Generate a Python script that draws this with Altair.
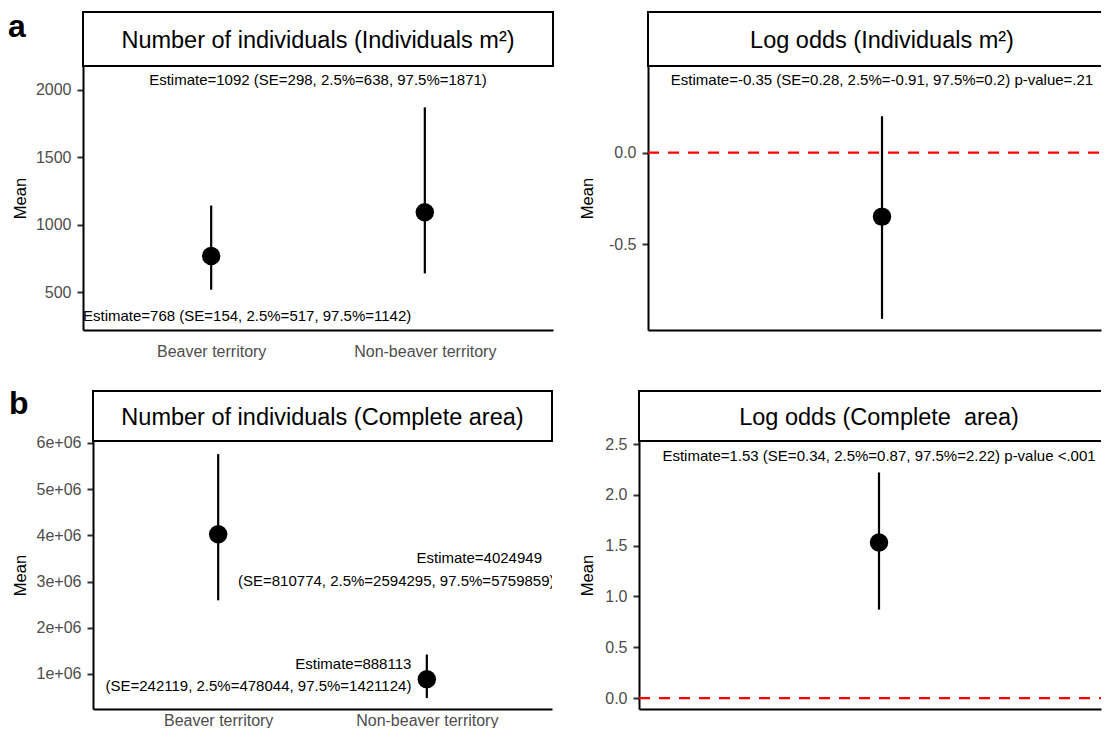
import altair as alt
import pandas as pd

FONT = "Liberation Sans"
GREY = "#4D4D4D"

# ---------------- data ----------------
categories = ["Beaver territory", "Non-beaver territory"]
cat_pos = [1, 2]

ind_mean = [768, 1092]
ind_low = [517, 638]
ind_high = [1142, 1871]

lo_ind_mean = [-0.35]
lo_ind_low = [-0.91]
lo_ind_high = [0.2]

tot_mean = [4024949, 888113]
tot_low = [2594295, 478044]
tot_high = [5759859, 1421124]

lo_tot_mean = [1.53]
lo_tot_low = [0.87]
lo_tot_high = [2.22]

strip_titles = [
    "Number of individuals (Individuals m²)",
    "Log odds (Individuals m²)",
    "Number of individuals (Complete area)",
    "Log odds (Complete\u00a0 area)",
]
panel_tags = ["a", "b"]
zero_line = [0]

ann_ind_top = ["Estimate=1092 (SE=298, 2.5%=638, 97.5%=1871)"]
ann_ind_top_x = [1.5]
ann_ind_top_y = [2074]
ann_ind_bot = ["Estimate=768 (SE=154, 2.5%=517, 97.5%=1142)"]
ann_ind_bot_x = [0.4]
ann_ind_bot_y = [322]
ann_lo_ind = ["Estimate=-0.35 (SE=0.28, 2.5%=-0.91, 97.5%=0.2) p-value=.21"]
ann_lo_ind_x = [1]
ann_lo_ind_y = [0.40]
ann_tot_b1 = ["Estimate=4024949"]
ann_tot_b1_x = [2.552]
ann_tot_b1_y = [3.50e6]
ann_tot_b2 = ["(SE=810774, 2.5%=2594295, 97.5%=5759859)"]
ann_tot_b2_x = [1.095]
ann_tot_b2_y = [3.02e6]
ann_tot_n = ["Estimate=888113", "(SE=242119, 2.5%=478044, 97.5%=1421124)"]
ann_tot_n_x = [1.926, 1.926]
ann_tot_n_y = [1.216e6, 0.740e6]
ann_lo_tot = ["Estimate=1.53 (SE=0.34, 2.5%=0.87, 97.5%=2.22) p-value <.001"]
ann_lo_tot_x = [1]
ann_lo_tot_y = [2.38]

# ---------------- helpers ----------------
label_expr = "'" + categories[-1] + "'"
for p, c in reversed(list(zip(cat_pos[:-1], categories[:-1]))):
    label_expr = f"datum.value == {p} ? '{c}' : " + label_expr

HYPHEN_1F = "datum.value < 0 ? '-' + format(-datum.value, '.1f') : format(datum.value, '.1f')"
SCI_EXPR = "replace(format(datum.value, '.0e'), 'e+', 'e+0')"


def panel(pos, mean, low, high, xdom, ydom, yvals, ypad, width, x0, height,
          strip_title, strip_center, strip_h, tag=None, tag_dx=0, tag_dy=0,
          xlabels=True, xlabel_pad=13, yfmt=None, yexpr=None, texts=(), zero=None,
          open_right=False):

    def X(field):
        if xlabels:
            axis = alt.Axis(values=cat_pos, labelExpr=label_expr, ticks=False, tickSize=0,
                            labelPadding=xlabel_pad, labelFontSize=16, labelColor=GREY,
                            labelFont=FONT, domainColor="black", domainWidth=2,
                            grid=False, title=None)
        else:
            axis = alt.Axis(labels=False, ticks=False, tickSize=0, domainColor="black",
                            domainWidth=2, grid=False, title=None)
        return alt.X(f"{field}:Q",
                     scale=alt.Scale(domain=xdom, range=[x0, width], nice=False, zero=False),
                     axis=axis, title=None)

    def Y(field):
        kw = dict(values=yvals, title="Mean", titlePadding=ypad, titleFontSize=16.5,
                  titleFontWeight="normal", titleColor="black", titleFont=FONT,
                  labelFontSize=16, labelColor=GREY, labelFont=FONT, labelPadding=6,
                  tickSize=6, tickWidth=2, tickColor="#333333",
                  domainColor="black", domainWidth=2, grid=False, offset=-x0)
        if yfmt:
            kw["format"] = yfmt
        if yexpr:
            kw["labelExpr"] = yexpr
        return alt.Y(f"{field}:Q", scale=alt.Scale(domain=ydom, nice=False, zero=False),
                     axis=alt.Axis(**kw), title="Mean")

    layers = []
    sdf = pd.DataFrame({"title": [strip_title], "cx": [strip_center]})
    if open_right:
        layers.append(alt.Chart(sdf).mark_rect(fill="white", strokeWidth=0).encode(
            x=alt.value(x0), x2=alt.value(width), y=alt.value(-strip_h), y2=alt.value(0)))
        for yy in (-strip_h, 0):
            layers.append(alt.Chart(sdf).mark_rule(color="black", strokeWidth=2).encode(
                x=alt.value(x0 - 1), x2=alt.value(width), y=alt.value(yy)))
        layers.append(alt.Chart(sdf).mark_rule(color="black", strokeWidth=2).encode(
            x=alt.value(x0), y=alt.value(-strip_h), y2=alt.value(0)))
    else:
        layers.append(alt.Chart(sdf).mark_rect(fill="white", stroke="black",
                                               strokeWidth=2).encode(
            x=alt.value(x0), x2=alt.value(width), y=alt.value(-strip_h), y2=alt.value(0)))
    layers.append(alt.Chart(sdf).mark_text(fontSize=23.5, font=FONT, color="black",
                                           align="center", baseline="middle").encode(
        x=X("cx"), y=alt.value(-strip_h / 2 + 2), text="title:N"))
    if tag:
        tdf = pd.DataFrame({"tag": [tag]})
        layers.append(alt.Chart(tdf).mark_text(fontSize=32, font=FONT, fontWeight="bold",
                                               color="black", align="left",
                                               baseline="alphabetic").encode(
            x=alt.value(tag_dx), y=alt.value(tag_dy), text="tag:N"))
    if zero is not None:
        zdf = pd.DataFrame({"zero": zero})
        layers.append(alt.Chart(zdf).mark_rule(color="#FF0000", strokeDash=[11, 9],
                                               strokeWidth=2.2).encode(
            x=alt.value(x0), x2=alt.value(width), y=Y("zero")))
    df = pd.DataFrame({"pos": pos, "mean": mean, "low": low, "high": high})
    layers.append(alt.Chart(df).mark_rule(color="black", strokeWidth=2.2).encode(
        x=X("pos"), y=Y("low"), y2="high:Q"))
    layers.append(alt.Chart(df).mark_circle(size=340, color="black", opacity=1).encode(
        x=X("pos"), y=Y("mean")))
    for labels, xs, ys, align, clip in texts:
        tdf = pd.DataFrame({"lx": xs, "ly": ys, "label": labels})
        layers.append(alt.Chart(tdf).mark_text(fontSize=15, font=FONT, color="black",
                                               align=align, baseline="middle", clip=clip).encode(
            x=X("lx"), y=Y("ly"), text="label:N"))
    return alt.layer(*layers).properties(width=width, height=height)


tl = panel(cat_pos, ind_mean, ind_low, ind_high, [0.4, 2.6], [218, 2178],
           [500, 1000, 1500, 2000], 7, 470, 0, 264, strip_titles[0], 1.5, 54,
           tag=panel_tags[0], tag_dx=-75, tag_dy=-29, yfmt="d",
           texts=[(ann_ind_top, ann_ind_top_x, ann_ind_top_y, "center", False),
                  (ann_ind_bot, ann_ind_bot_x, ann_ind_bot_y, "left", False)])

tr = panel([1], lo_ind_mean, lo_ind_low, lo_ind_high, [0.4, 1.5615], [-0.971, 0.475],
           [-0.5, 0.0], 13, 462, 9, 264, strip_titles[1], 1.0, 54, xlabels=False,
           yexpr=HYPHEN_1F, open_right=True,
           texts=[(ann_lo_ind, ann_lo_ind_x, ann_lo_ind_y, "center", False)],
           zero=zero_line)

bl = panel(cat_pos, tot_mean, tot_low, tot_high, [0.4, 2.6], [242000, 6043000],
           [1e6, 2e6, 3e6, 4e6, 5e6, 6e6], 7.5, 469, 10, 268, strip_titles[2], 1.5, 50,
           tag=panel_tags[1], tag_dx=-74, tag_dy=-27, yexpr=SCI_EXPR, xlabel_pad=3,
           texts=[(ann_tot_b1, ann_tot_b1_x, ann_tot_b1_y, "right", False),
                  (ann_tot_b2, ann_tot_b2_x, ann_tot_b2_y, "left", True),
                  (ann_tot_n, ann_tot_n_x, ann_tot_n_y, "right", False)])

br = panel([1], lo_tot_mean, lo_tot_low, lo_tot_high, [0.4, 1.555], [-0.108, 2.53],
           [0.0, 0.5, 1.0, 1.5, 2.0, 2.5], 9.5, 462, 0, 268, strip_titles[3], 1.0, 50,
           xlabels=False, yfmt=".1f", open_right=True,
           texts=[(ann_lo_tot, ann_lo_tot_x, ann_lo_tot_y, "center", False)],
           zero=zero_line)

chart = alt.concat(tl, tr, bl, br, columns=2,
                   spacing=alt.RowColnumber(row=29, column=25)).properties(
    padding={"left": 0, "top": 3, "right": 0, "bottom": 0}
).configure(font=FONT).configure_view(stroke=None)

chart.save("out.html", embed_options={"renderer": "svg", "actions": False})
